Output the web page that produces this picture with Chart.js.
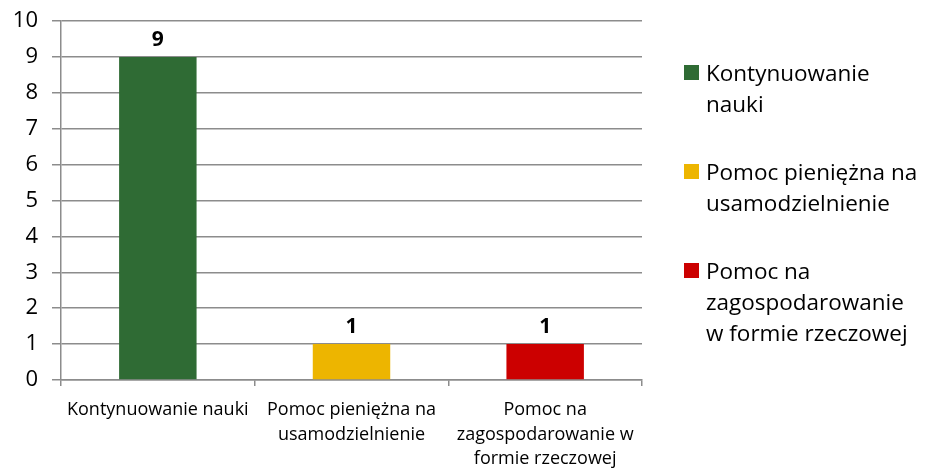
<!DOCTYPE html>
<html>
<head>
<meta charset="utf-8">
<script src="https://cdn.jsdelivr.net/npm/chart.js@4"></script>
<style>
    body { margin: 0; background: #fff; }
    #wrap { position: relative; width: 925px; height: 468px; }
    #legend { position: absolute; left: 684px; top: 57px; font-family: "Open Sans", sans-serif; font-size: 22.5px; line-height: 31px; color: #000; white-space: nowrap; }
    .item { position: relative; padding-left: 22px; margin-bottom: 37px; }
    .box { position: absolute; left: 0; top: 8px; width: 15px; height: 15px; }
</style>
</head>
<body>
<div id="wrap">
    <canvas id="chart" width="925" height="468"></canvas>
    <div id="legend"></div>
</div>
<script>
// ############### data ###############
const categories = [
    ["Kontynuowanie nauki"],
    ["Pomoc pieniężna na", "usamodzielnienie"],
    ["Pomoc na", "zagospodarowanie w", "formie rzeczowej"]
];
const legendLabels = [
    ["Kontynuowanie", "nauki"],
    ["Pomoc pieniężna na", "usamodzielnienie"],
    ["Pomoc na", "zagospodarowanie", "w formie rzeczowej"]
];
const values = [9, 1, 1];
const colors = ["#2f6b34", "#edb500", "#cc0000"];
const yTicks = [0, 1, 2, 3, 4, 5, 6, 7, 8, 9, 10];

// ############### legend ###############
const legend = document.getElementById("legend");
legendLabels.forEach((lines, i) => {
    const item = document.createElement("div");
    item.className = "item";
    const box = document.createElement("span");
    box.className = "box";
    box.style.background = colors[i];
    item.appendChild(box);
    item.insertAdjacentHTML("beforeend", lines.join("<br>"));
    legend.appendChild(item);
});

// value labels above bars
const valueLabels = {
    id: "valueLabels",
    afterDatasetsDraw(chart) {
        const ctx = chart.ctx;
        ctx.save();
        ctx.font = "bold 21px 'Open Sans'";
        ctx.fillStyle = "#000";
        ctx.textAlign = "center";
        ctx.textBaseline = "middle";
        chart.getDatasetMeta(0).data.forEach((bar, i) => {
            ctx.fillText(values[i], bar.x, bar.y - 17);
        });
        ctx.restore();
    }
};

const gridColor = "#8c8c8c";

new Chart(document.getElementById("chart").getContext("2d"), {
    type: "bar",
    data: {
        labels: categories,
        datasets: [{
            data: values,
            backgroundColor: colors,
            categoryPercentage: 1,
            barPercentage: 0.4
        }]
    },
    options: {
        responsive: false,
        animation: false,
        layout: { padding: { top: 21, right: 283, left: 0, bottom: 0 } },
        plugins: { legend: { display: false }, tooltip: { enabled: false } },
        scales: {
            y: {
                min: 0,
                max: 10,
                afterBuildTicks: (scale) => { scale.ticks = yTicks.map(v => ({ value: v })); },
                afterFit: (scale) => {
                    scale.width = 61;
                    scale.paddingTop = 0;
                    scale.paddingBottom = 0;
                },
                ticks: {
                    color: "#000",
                    padding: 14,
                    font: { family: "Open Sans", size: 22 }
                },
                grid: { color: gridColor, lineWidth: 1.5, tickLength: 9 },
                border: { color: gridColor, width: 1.5 }
            },
            x: {
                offset: true,
                afterFit: (scale) => {
                    scale.height = 88;
                    scale.paddingLeft = 0;
                    scale.paddingRight = 0;
                },
                ticks: {
                    color: "#000",
                    padding: 12,
                    maxRotation: 0,
                    autoSkip: false,
                    font: { family: "Open Sans", size: 18, lineHeight: 1.35 }
                },
                grid: { offset: true, drawOnChartArea: false, color: gridColor, lineWidth: 1.5, tickLength: 6 },
                border: { color: gridColor, width: 1.5 }
            }
        }
    },
    plugins: [valueLabels]
});
</script>
</body>
</html>
